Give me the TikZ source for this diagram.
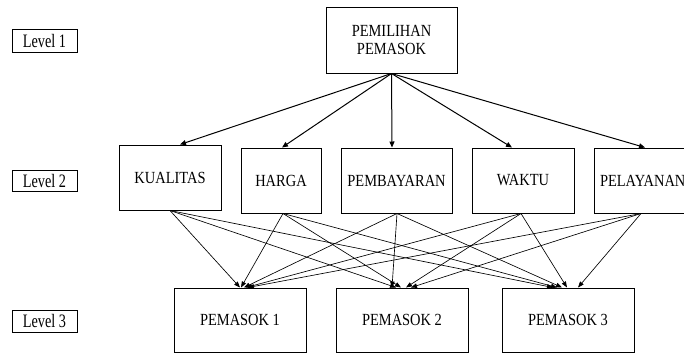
\documentclass[tikz,border=0pt]{standalone}
\usepackage{fontspec}
\usepackage{graphicx}
\setmainfont{LiberationSerif}[Extension=.ttf, UprightFont=*-Regular, BoldFont=*-Bold]
\usetikzlibrary{arrows.meta,calc}
\newcommand\hsb[1]{\scalebox{0.85}[1]{#1}}
\newcommand\hsl[1]{\scalebox{0.75}[1]{#1}}
\tikzset{
  lvl/.style={draw, line width=1pt, inner sep=0pt, minimum width=65pt, font=\fontsize{19}{21}\selectfont},
  crit/.style={draw, line width=1pt, inner sep=0pt, minimum height=65pt, font=\fontsize{17}{18}\selectfont},
  alt/.style={draw, line width=1pt, inner sep=0pt, minimum width=132pt, minimum height=64pt, font=\fontsize{17}{18}\selectfont},
  toparr/.style={line width=1pt, -{Triangle[length=6pt,width=5pt]}},
  lowarr/.style={line width=0.65pt, -{Triangle[length=6pt,width=4.5pt]}}
}
\begin{document}
\begin{tikzpicture}[x=1pt,y=-1pt]
\useasboundingbox (0,0) rectangle (684,354);
\clip (0,0) rectangle (684,354);
% level labels
\node[lvl, minimum height=23pt] (lv1) at (44.5,40.5) {\hsl{Level 1}};
\node[lvl, minimum height=21pt] (lv2) at (44.5,180.5) {\hsl{Level 2}};
\node[lvl, minimum height=22pt] (lv3) at (44.5,321) {\hsl{Level 3}};
% goal
\node[draw, line width=1pt, inner sep=0pt, minimum width=131pt, minimum height=66pt, align=center, font=\fontsize{17}{18}\selectfont] (top) at (391.5,40) {\hsb{PEMILIHAN}\\\hsb{PEMASOK}};
% criteria
\node[crit, minimum width=102pt] (k) at (170,177.5) {\hsb{KUALITAS}};
\node[crit, minimum width=80pt] (h) at (281,180.5) {\hsb{HARGA}};
\node[crit, minimum width=111pt] (b) at (396.5,180.5) {\hsb{PEMBAYARAN}};
\node[crit, minimum width=102pt] (w) at (523,180.5) {\hsb{WAKTU}};
\node[crit, minimum width=102pt, text width=102pt, align=left] (l) at (645,180.5) {\hspace{6pt}\hsb{PELAYANAN}};
% alternatives
\node[alt] (p1) at (240,320) {\hsb{PEMASOK 1}};
\node[alt] (p2) at (402,320) {\hsb{PEMASOK 2}};
\node[alt] (p3) at (568,320) {\hsb{PEMASOK 3}};
% top arrows
\draw[toparr] (top.south) -- ([xshift=10pt]k.north);
\draw[toparr] (top.south) -- ([xshift=1pt]h.north);
\draw[toparr] (top.south) -- ([xshift=-4.5pt]b.north);
\draw[toparr] (top.south) -- ([xshift=-11pt]w.north);
\draw[toparr] (top.south) -- ([xshift=0pt]l.north);
% lower arrows to P1
\draw[lowarr] (k.south) -- ([xshift=0pt]p1.north);
\draw[lowarr] ([xshift=2pt]h.south) -- ([xshift=1pt]p1.north);
\draw[lowarr] ([xshift=0.5pt]b.south) -- ([xshift=4pt]p1.north);
\draw[lowarr] ([xshift=-2pt]w.south) -- ([xshift=6pt]p1.north);
\draw[lowarr] ([xshift=-4pt]l.south) -- ([xshift=8pt]p1.north);
% to P2
\draw[lowarr] (k.south) -- ([xshift=-6pt]p2.north);
\draw[lowarr] ([xshift=2pt]h.south) -- ([xshift=-1pt]p2.north);
\draw[lowarr] ([xshift=0.5pt]b.south) -- ([xshift=-10pt]p2.north);
\draw[lowarr] ([xshift=-2pt]w.south) -- ([xshift=4pt]p2.north);
\draw[lowarr] ([xshift=-4pt]l.south) -- ([xshift=9pt]p2.north);
% to P3
\draw[lowarr] (k.south) -- ([xshift=-15pt]p3.north);
\draw[lowarr] ([xshift=2pt]h.south) -- ([xshift=-11pt]p3.north);
\draw[lowarr] ([xshift=0.5pt]b.south) -- ([xshift=-6pt]p3.north);
\draw[lowarr] ([xshift=-2pt]w.south) -- ([xshift=-1pt]p3.north);
\draw[lowarr] ([xshift=-4pt]l.south) -- ([xshift=10pt]p3.north);
\end{tikzpicture}
\end{document}
